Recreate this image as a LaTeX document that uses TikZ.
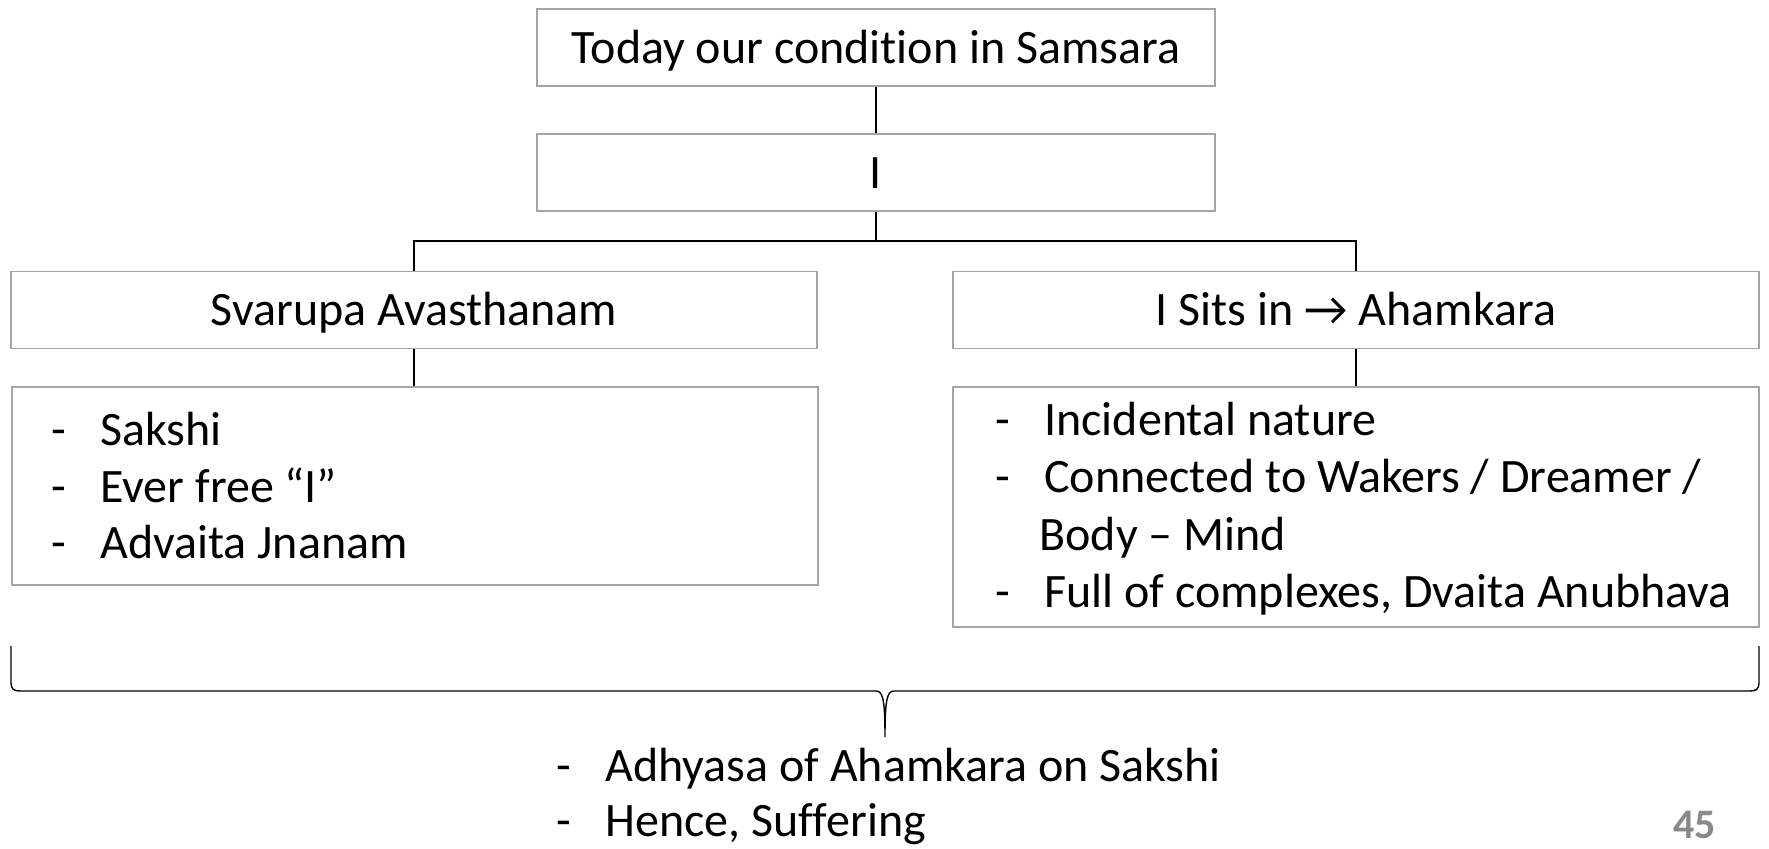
\documentclass[tikz,border=0pt]{standalone}
\usepackage{fontspec}
\setmainfont[Ligatures=NoCommon]{Carlito}
\usetikzlibrary{calc}
\definecolor{boxline}{RGB}{165,165,165}
\definecolor{pagenum}{RGB}{137,137,137}
\tikzset{
  x=0.5pt, y=-0.5pt,
  stepbox/.style={draw=boxline, line width=0.75pt, fill=white, inner sep=0pt,
    minimum height=38.5pt, text height=15.5pt, text depth=0pt,
    font=\fontsize{24}{28.7}\selectfont},
  wide/.style={minimum width=339pt},
  half/.style={minimum width=403pt},
  listbox/.style={draw=boxline, line width=0.75pt, inner sep=0pt, minimum width=403pt},
  item/.style={anchor=base west, inner sep=0pt, font=\fontsize{24}{28.7}\selectfont},
  link/.style={draw=black, line width=0.6pt},
}
\newcommand{\dashitem}[1]{\makebox[24.5pt][l]{-}#1}
\begin{document}
\begin{tikzpicture}
\useasboundingbox (0,0) rectangle (1769,848);

% top of the hierarchy
\node[stepbox, wide] (top) at (876,47.5) {Today our condition in Samsara};
\node[stepbox, wide] (ibox) at (876,172.5) {I};

% the two states
\node[stepbox, half] (sva) at (414,310) {Svarupa Avasthanam};
\node[stepbox, half] (aham) at (1356,310) {I Sits in → Ahamkara};

% description boxes
\node[listbox, minimum height=99pt] (llist) at (415,486) {};
\node[listbox, minimum height=120pt] (rlist) at (1356,507) {};

% connectors
\coordinate (split) at (876,241);
\draw[link] (top.south) -- (ibox.north);
\draw[link] (ibox.south) -- (split);
\draw[link] (split) -| (sva.north);
\draw[link] (split) -| (aham.north);
\draw[link] (sva.south) -- (llist.north -| sva.south);
\draw[link] (aham.south) -- (rlist.north -| aham.south);

% left list
\node[item] (l1) at (51,445) {\dashitem{Sakshi}};
\node[item] (l2) at (51,502) {\dashitem{Ever free “I”}};
\node[item] (l3) at (51,558) {\dashitem{Advaita Jnanam}};

% right list
\node[item] (r1) at (995,435) {\dashitem{Incidental nature}};
\node[item] (r2) at (995,492) {\dashitem{Connected to Wakers / Dreamer /}};
\node[item] (r3) at (1039,550) {Body – Mind};
\node[item] (r4) at (995,607) {\dashitem{Full of complexes, Dvaita Anubhava}};

% brace gathering both columns
\coordinate (bl) at (11,646);
\coordinate (br) at (1759,646);
\coordinate (tip) at (885,737);
\draw[line width=0.7pt]
  (bl) -- (11,683) .. controls (11,689) and (14,691) .. (20,691)
  -- (876,691) .. controls (883,691) and (885,700) .. (tip)
  (tip) .. controls (885,700) and (887,691) .. (894,691)
  -- (1750,691) .. controls (1756,691) and (1759,689) .. (1759,683) -- (br);

% conclusion
\node[item] (c1) at (556,781) {\dashitem{Adhyasa of Ahamkara on Sakshi}};
\node[item] (c2) at (556,836) {\dashitem{Hence, Suffering}};

% page number
\node[anchor=base east, inner sep=0pt, text=pagenum, font=\fontsize{21}{25}\selectfont\bfseries] (pg) at (1716,838) {45};
\end{tikzpicture}
\end{document}
